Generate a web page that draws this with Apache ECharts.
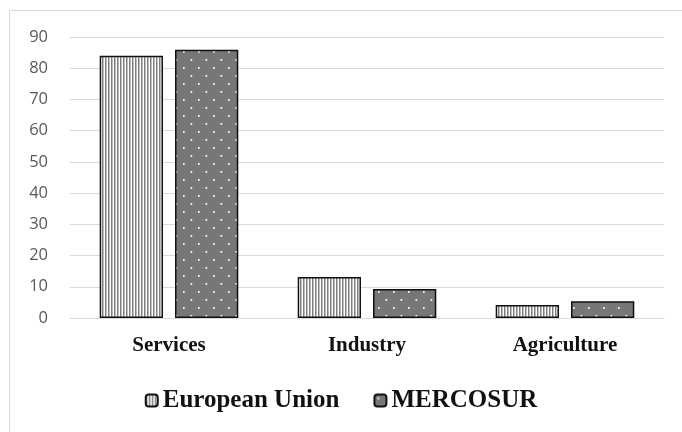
<!DOCTYPE html>
<html>
<head>
<meta charset="utf-8">
<script src="https://cdn.jsdelivr.net/npm/echarts@6/dist/echarts.min.js"></script>
<style>
html, body { margin: 0; padding: 0; background: #fff; }
#main { width: 682px; height: 432px; }
</style>
</head>
<body>
<div id="main"></div>
<script>
var categories = ['Services', 'Industry', 'Agriculture'];
var euValues = [84, 13.1, 4.2];
var mercosurValues = [85.9, 9.3, 5.4];
var yTicks = [0, 10, 20, 30, 40, 50, 60, 70, 80, 90];

// vertical stripes
function stripePattern() {
    var c = document.createElement('canvas');
    c.width = 3; c.height = 4;
    var ctx = c.getContext('2d');
    ctx.fillStyle = '#ffffff';
    ctx.fillRect(0, 0, 3, 4);
    ctx.fillStyle = '#7f7f7f';
    ctx.fillRect(0, 0, 1.5, 4);
    return c;
}

// gray with white dots
function dotPattern() {
    var c = document.createElement('canvas');
    c.width = 15; c.height = 16;
    var ctx = c.getContext('2d');
    ctx.fillStyle = '#777777';
    ctx.fillRect(0, 0, 15, 16);
    ctx.fillStyle = '#ffffff';
    ctx.fillRect(3, 3, 1.7, 1.7);
    ctx.fillRect(10.5, 11, 1.7, 1.7);
    return c;
}

var chartDom = document.getElementById('main');
var myChart = echarts.init(chartDom);
var option;

option = {
    animation: false,
    backgroundColor: '#fff',
    graphic: [
        { type: 'line', shape: { x1: 9.5, y1: 10.5, x2: 9.5, y2: 432 }, style: { stroke: '#d9d9d9', lineWidth: 1 } },
        { type: 'line', shape: { x1: 9.5, y1: 10.5, x2: 682, y2: 10.5 }, style: { stroke: '#d9d9d9', lineWidth: 1 } }
    ],
    grid: { left: 70, right: 18, top: 37, bottom: 114 },
    legend: {
        bottom: 14,
        left: 'center',
        itemWidth: 12,
        itemHeight: 12,
        itemGap: 34,
        textStyle: { fontFamily: 'Liberation Serif', fontWeight: 'bold', fontSize: 25, color: '#111' },
        data: ['European Union', 'MERCOSUR']
    },
    xAxis: {
        type: 'category',
        data: categories,
        axisTick: { show: false },
        axisLine: { lineStyle: { color: '#d9d9d9', width: 1 } },
        axisLabel: { margin: 17, fontFamily: 'Liberation Serif', fontWeight: 'bold', fontSize: 21, color: '#111' }
    },
    yAxis: {
        type: 'value',
        min: 0,
        max: 90,
        interval: 10,
        axisLine: { show: false },
        axisTick: { show: false },
        splitLine: { lineStyle: { color: '#d9d9d9', width: 1 } },
        axisLabel: {
            margin: 22,
            fontFamily: 'Open Sans',
            fontSize: 16.5,
            color: '#595959',
            formatter: function (v) { return yTicks.indexOf(v) >= 0 ? String(v) : ''; }
        }
    },
    series: [
        {
            name: 'European Union',
            type: 'bar',
            data: euValues,
            barGap: '19%',
            barCategoryGap: '30%',
            itemStyle: {
                color: { image: stripePattern(), repeat: 'repeat' },
                borderColor: '#111',
                borderWidth: 1.5
            }
        },
        {
            name: 'MERCOSUR',
            type: 'bar',
            data: mercosurValues,
            itemStyle: {
                color: { image: dotPattern(), repeat: 'repeat' },
                borderColor: '#111',
                borderWidth: 1.5
            }
        }
    ]
};

option && myChart.setOption(option);
</script>
</body>
</html>
